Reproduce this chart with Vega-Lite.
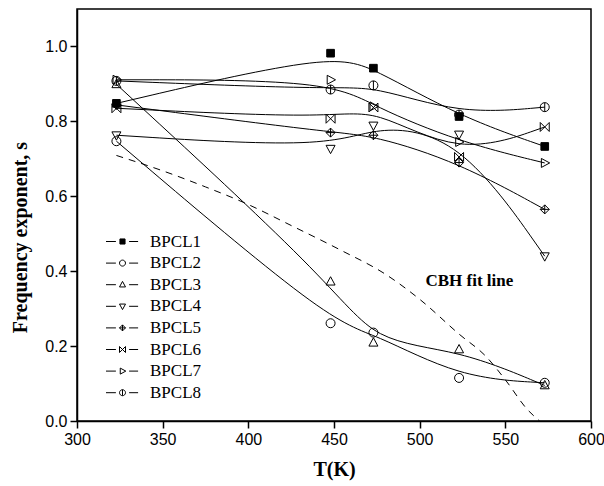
{
  "$schema": "https://vega.github.io/schema/vega-lite/v6.json",
  "width": 514,
  "height": 412,
  "autosize": {"type": "none"},
  "padding": {"left": 77, "top": 9, "right": 13, "bottom": 65},
  "background": "white",
  "config": {
    "view": {"stroke": "black", "strokeWidth": 1.5},
    "axis": {"domainColor": "black", "domainWidth": 1.5, "tickColor": "black", "tickWidth": 1.5, "tickSize": 7, "grid": false, "labelFlush": false, "labelOverlap": false, "labelFont": "Liberation Sans", "labelFontSize": 16, "labelColor": "black", "titleFont": "Liberation Serif", "titleFontWeight": "bold", "titleFontSize": 20, "titleColor": "black"},
    "legend": {"labelFont": "Liberation Serif", "labelFontSize": 17, "labelColor": "black", "symbolSize": 36, "symbolStrokeColor": "black", "symbolStrokeWidth": 1}
  },
  "datasets": {
    "pts": [
      {"series": "BPCL1", "T": 323, "s": 0.848}, {"series": "BPCL1", "T": 448, "s": 0.982}, {"series": "BPCL1", "T": 473, "s": 0.942}, {"series": "BPCL1", "T": 523, "s": 0.813}, {"series": "BPCL1", "T": 573, "s": 0.733},
      {"series": "BPCL2", "T": 323, "s": 0.747}, {"series": "BPCL2", "T": 448, "s": 0.261}, {"series": "BPCL2", "T": 473, "s": 0.236}, {"series": "BPCL2", "T": 523, "s": 0.115}, {"series": "BPCL2", "T": 573, "s": 0.102},
      {"series": "BPCL3", "T": 323, "s": 0.899}, {"series": "BPCL3", "T": 448, "s": 0.372}, {"series": "BPCL3", "T": 473, "s": 0.209}, {"series": "BPCL3", "T": 523, "s": 0.191}, {"series": "BPCL3", "T": 573, "s": 0.095},
      {"series": "BPCL4", "T": 323, "s": 0.763}, {"series": "BPCL4", "T": 448, "s": 0.727}, {"series": "BPCL4", "T": 473, "s": 0.789}, {"series": "BPCL4", "T": 523, "s": 0.765}, {"series": "BPCL4", "T": 573, "s": 0.44},
      {"series": "BPCL5", "T": 323, "s": 0.844}, {"series": "BPCL5", "T": 448, "s": 0.77}, {"series": "BPCL5", "T": 473, "s": 0.763}, {"series": "BPCL5", "T": 523, "s": 0.69}, {"series": "BPCL5", "T": 573, "s": 0.565},
      {"series": "BPCL6", "T": 323, "s": 0.835}, {"series": "BPCL6", "T": 448, "s": 0.807}, {"series": "BPCL6", "T": 473, "s": 0.837}, {"series": "BPCL6", "T": 523, "s": 0.705}, {"series": "BPCL6", "T": 573, "s": 0.785},
      {"series": "BPCL7", "T": 323, "s": 0.911}, {"series": "BPCL7", "T": 448, "s": 0.911}, {"series": "BPCL7", "T": 473, "s": 0.84}, {"series": "BPCL7", "T": 523, "s": 0.745}, {"series": "BPCL7", "T": 573, "s": 0.689},
      {"series": "BPCL8", "T": 323, "s": 0.908}, {"series": "BPCL8", "T": 448, "s": 0.885}, {"series": "BPCL8", "T": 473, "s": 0.896}, {"series": "BPCL8", "T": 523, "s": 0.818}, {"series": "BPCL8", "T": 573, "s": 0.838}
    ],
    "cbh": [
      {"T": 323, "s": 0.709}, {"T": 350, "s": 0.668}, {"T": 375, "s": 0.625}, {"T": 398, "s": 0.582}, {"T": 425, "s": 0.522}, {"T": 454, "s": 0.456}, {"T": 480, "s": 0.392}, {"T": 500, "s": 0.325}, {"T": 523, "s": 0.232}, {"T": 539, "s": 0.171}, {"T": 550, "s": 0.11}, {"T": 563, "s": 0.03}, {"T": 570, "s": 0.0}
    ]
  },
  "layer": [
    {
      "data": {"name": "pts"},
      "mark": {"type": "line", "interpolate": "basis", "stroke": "black", "strokeWidth": 1},
      "encoding": {
        "x": {"field": "T", "type": "quantitative", "scale": {"domain": [300, 600], "nice": false}, "axis": {"title": "T(K)", "values": [300, 350, 400, 450, 500, 550, 600], "labelPadding": 3, "titlePadding": 12}},
        "y": {"field": "s", "type": "quantitative", "scale": {"domain": [0, 1.1], "nice": false}, "axis": {"title": "Frequency exponent, s", "values": [0, 0.2, 0.4, 0.6, 0.8, 1.0], "format": ".1f", "labelPadding": 3, "titleX": -57, "titleY": 228, "titleAngle": -90, "titleAlign": "center", "titleBaseline": "middle"}},
        "detail": {"field": "series"}
      }
    },
    {
      "data": {"name": "cbh"},
      "mark": {"type": "line", "stroke": "black", "strokeWidth": 1, "strokeDash": [7, 6], "interpolate": "monotone"},
      "encoding": {
        "x": {"field": "T", "type": "quantitative"},
        "y": {"field": "s", "type": "quantitative"}
      }
    },
    {
      "data": {"name": "pts"},
      "mark": {"type": "point", "filled": true, "stroke": "black", "strokeWidth": 1, "size": 81, "opacity": 1},
      "encoding": {
        "x": {"field": "T", "type": "quantitative"},
        "y": {"field": "s", "type": "quantitative"},
        "shape": {"field": "series", "type": "nominal", "legend": null, "scale": {"domain": ["BPCL1", "BPCL2", "BPCL3", "BPCL4", "BPCL5", "BPCL6", "BPCL7", "BPCL8"], "range": [
          "M-0.85,-0.85H0.85V0.85H-0.85Z",
          "M1,0A1,1 0 1,1 -1,0A1,1 0 1,1 1,0Z",
          "M0,-1.1L1,0.75L-1,0.75Z",
          "M0,1.1L1,-0.75L-1,-0.75Z",
          "M0,-1L1,0L0,1L-1,0ZM0,-1V1M-1,0H1",
          "M-1,-1L1,1L1,-1L-1,1Z",
          "M1.1,0L-0.75,-1L-0.75,1Z",
          "M1,0A1,1 0 1,1 -1,0A1,1 0 1,1 1,0ZM0,-1V1"
        ]}},
        "fill": {"field": "series", "type": "nominal", "legend": null, "scale": {"domain": ["BPCL1", "BPCL2", "BPCL3", "BPCL4", "BPCL5", "BPCL6", "BPCL7", "BPCL8"], "range": ["black", "transparent", "transparent", "transparent", "transparent", "transparent", "transparent", "transparent"]}}
      }
    },
    {
      "data": {"name": "pts"},
      "transform": [{"filter": "false"}],
      "mark": {"type": "point", "filled": true, "stroke": "black", "strokeWidth": 1, "opacity": 1},
      "encoding": {
        "x": {"field": "T", "type": "quantitative"},
        "y": {"field": "s", "type": "quantitative"},
        "shape": {"field": "series", "type": "nominal", "scale": {"domain": ["BPCL1", "BPCL2", "BPCL3", "BPCL4", "BPCL5", "BPCL6", "BPCL7", "BPCL8"], "range": [
          "M-5.5,0H-2.2M2.2,0H5.2M-0.85,-0.85H0.85V0.85H-0.85Z",
          "M-5.5,0H-2.2M2.2,0H5.2M1,0A1,1 0 1,1 -1,0A1,1 0 1,1 1,0Z",
          "M-5.5,0H-2.2M2.2,0H5.2M0,-1.1L1,0.75L-1,0.75Z",
          "M-5.5,0H-2.2M2.2,0H5.2M0,1.1L1,-0.75L-1,-0.75Z",
          "M-5.5,0H-2.2M2.2,0H5.2M0,-1L1,0L0,1L-1,0ZM0,-1V1M-1,0H1",
          "M-5.5,0H-2.2M2.2,0H5.2M-1,-1L1,1L1,-1L-1,1Z",
          "M-5.5,0H-2.2M2.2,0H5.2M1.1,0L-0.75,-1L-0.75,1Z",
          "M-5.5,0H-2.2M2.2,0H5.2M1,0A1,1 0 1,1 -1,0A1,1 0 1,1 1,0ZM0,-1V1"
        ]}, "legend": {"title": null, "orient": "none", "legendX": 37, "legendY": 224, "labelOffset": 19, "rowPadding": 3.6, "padding": 0, "symbolFillColor": "transparent"}},
        "fill": {"field": "series", "type": "nominal", "scale": {"domain": ["BPCL1", "BPCL2", "BPCL3", "BPCL4", "BPCL5", "BPCL6", "BPCL7", "BPCL8"], "range": ["black", "transparent", "transparent", "transparent", "transparent", "transparent", "transparent", "transparent"]}, "legend": {"title": null, "orient": "none", "legendX": 37, "legendY": 224, "labelOffset": 19, "rowPadding": 3.6, "padding": 0}}
      }
    },
    {
      "data": {"values": [{"label": "CBH fit line"}]},
      "mark": {"type": "text", "font": "Liberation Serif", "fontWeight": "bold", "fontSize": 17, "color": "black", "align": "center", "baseline": "middle"},
      "encoding": {
        "x": {"datum": 529},
        "y": {"datum": 0.374},
        "text": {"field": "label"}
      }
    }
  ],
  "resolve": {"scale": {"shape": "independent", "fill": "independent"}, "legend": {"shape": "independent", "fill": "independent"}}
}
